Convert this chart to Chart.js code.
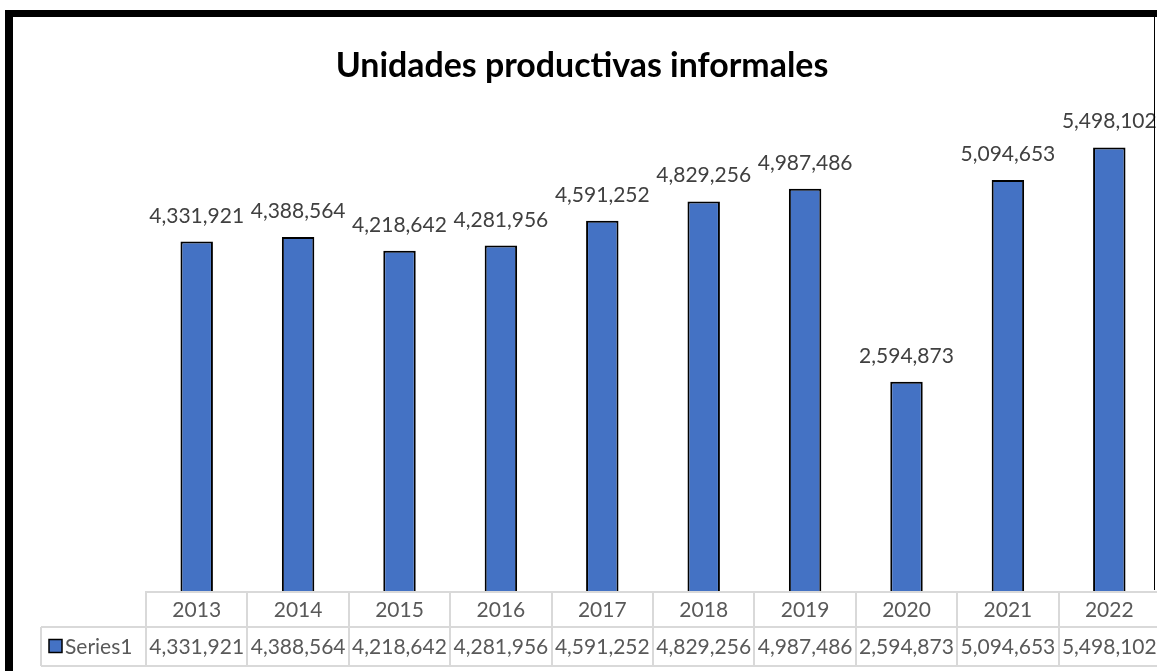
<!DOCTYPE html>
<html lang="es">
  <head>
    <meta charset="utf-8" />
    <title>Unidades productivas informales</title>
    <style>
      * {
        margin: 0;
        padding: 0;
      }
      body {
        width: 1157px;
        height: 671px;
        overflow: hidden;
        background: #fff;
      }
      #myChart {
        display: block;
      }
    </style>
  </head>
  <body>
    <canvas id="myChart" width="1162" height="671"></canvas>

    <script src="https://cdn.jsdelivr.net/npm/chart.js"></script>

    <script>
      // data
      const titleText = "Unidades productivas informales";
      const seriesName = "Series1";
      const years = ["2013", "2014", "2015", "2016", "2017", "2018", "2019", "2020", "2021", "2022"];
      const values = [4331921, 4388564, 4218642, 4281956, 4591252, 4829256, 4987486, 2594873, 5094653, 5498102];

      const barColor = "#4472C4";
      const gridGray = "#D9D9D9";
      const fontFamily = "Lato, 'Open Sans', sans-serif";

      const fmt = (v) => v.toLocaleString("en-US");

      // labels above the bars
      const barLabels = {
        id: "barLabels",
        afterDatasetsDraw(chart) {
          const { ctx } = chart;
          const meta = chart.getDatasetMeta(0);
          ctx.save();
          ctx.fillStyle = "#404040";
          ctx.font = "21px " + fontFamily;
          ctx.textAlign = "center";
          ctx.textBaseline = "alphabetic";
          meta.data.forEach((bar, i) => {
            ctx.fillText(fmt(values[i]), bar.x, bar.y - 19);
          });
          ctx.restore();
        },
      };

      // title, frame and the data table under the plot
      const excelParts = {
        id: "excelParts",
        afterDraw(chart) {
          const {
            ctx,
            chartArea: { left, right, bottom },
            scales: { x },
          } = chart;
          ctx.save();

          // title, sized to the original width
          let size = 30;
          ctx.font = "bold " + size + "px " + fontFamily;
          size = size * (493 / ctx.measureText(titleText).width);
          ctx.font = "bold " + size.toFixed(1) + "px " + fontFamily;
          ctx.fillStyle = "#000";
          ctx.textAlign = "center";
          ctx.textBaseline = "alphabetic";
          ctx.fillText(titleText, 582, 77);

          // data table
          const colW = (right - left) / years.length;
          const row1Top = bottom;
          const row2Top = bottom + 36;
          const row2Bottom = bottom + 75;
          const legLeft = 41;

          ctx.strokeStyle = gridGray;
          ctx.lineWidth = 2;
          ctx.beginPath();
          ctx.moveTo(left, row1Top + 1);
          ctx.lineTo(right, row1Top + 1);
          ctx.moveTo(legLeft, row2Top);
          ctx.lineTo(right, row2Top);
          ctx.moveTo(legLeft, row2Bottom);
          ctx.lineTo(right, row2Bottom);
          ctx.moveTo(legLeft, row2Top);
          ctx.lineTo(legLeft, row2Bottom);
          for (let i = 0; i <= years.length; i++) {
            const cx = Math.round(left + i * colW);
            ctx.moveTo(cx, row1Top);
            ctx.lineTo(cx, row2Bottom);
          }
          ctx.stroke();

          ctx.fillStyle = "#595959";
          ctx.font = "21px " + fontFamily;
          ctx.textAlign = "center";
          ctx.textBaseline = "middle";
          years.forEach((yr, i) => {
            const cx = x.getPixelForValue(i);
            ctx.fillText(yr, cx, (row1Top + row2Top) / 2 + 1);
            ctx.fillText(fmt(values[i]), cx, (row2Top + row2Bottom) / 2 + 1);
          });

          // legend key in the table
          const midY = (row2Top + row2Bottom) / 2;
          ctx.fillStyle = barColor;
          ctx.fillRect(49, midY - 7, 13, 13);
          ctx.strokeStyle = "#000";
          ctx.lineWidth = 1.5;
          ctx.strokeRect(49, midY - 7, 13, 13);
          ctx.fillStyle = "#595959";
          ctx.textAlign = "left";
          ctx.fillText(seriesName, 65, midY + 1);

          // chart frame (thick top/left, thin right)
          ctx.fillStyle = "#000";
          ctx.fillRect(5, 10, 1157, 7);
          ctx.fillRect(5, 10, 8, 661);
          ctx.fillRect(1154, 17, 1, 573);

          ctx.restore();
        },
      };

      const data = {
        labels: years,
        datasets: [
          {
            label: seriesName,
            data: values,
            backgroundColor: barColor,
            borderColor: "#000",
            borderWidth: 2,
            categoryPercentage: 1,
            barPercentage: 0.32,
          },
        ],
      };

      const config = {
        type: "bar",
        data: data,
        options: {
          responsive: false,
          animation: false,
          devicePixelRatio: 1,
          layout: {
            padding: { left: 146, right: 2, top: 107, bottom: 80 },
          },
          plugins: {
            legend: { display: false },
            title: { display: false },
            tooltip: { enabled: false },
          },
          scales: {
            x: { display: false },
            y: { display: false, min: 0, max: 6000000 },
          },
        },
        plugins: [barLabels, excelParts],
      };

      const ctx = document.getElementById("myChart");
      const myChart = new Chart(ctx, config);
    </script>
  </body>
</html>
